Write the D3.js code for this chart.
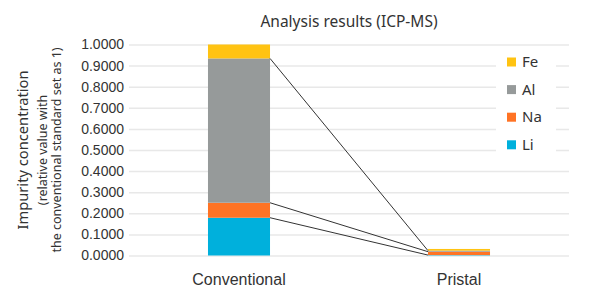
<!DOCTYPE html>
<html>
<head>
<meta charset="utf-8">
<script src="https://cdn.jsdelivr.net/npm/d3@7"></script>
<style>
  body { margin: 0; background: #fff; }
  svg { font-family: "Noto Sans", "Open Sans", sans-serif; }
</style>
</head>
<body>
<svg id="chart" width="600" height="300"></svg>
<script>
// chart data
const categories = ['Conventional', 'Pristal']
const elements = ['Li', 'Na', 'Al', 'Fe']
const Li = [0.179, 0.002]
const Na = [0.071, 0.016]
const Al = [0.684, 0.005]
const Fe = [0.066, 0.008]
const yTicks = [0, 0.1, 0.2, 0.3, 0.4, 0.5, 0.6, 0.7, 0.8, 0.9, 1.0]
const colors = { Li: '#00b0dc', Na: '#ff7324', Al: '#969a9a', Fe: '#ffc312' }

const series = { Li, Na, Al, Fe }
const rows = categories.map((c, i) => {
  const r = { category: c }
  elements.forEach(e => r[e] = series[e][i])
  return r
})
const stacked = d3.stack().keys(elements)(rows)

const svg = d3.select('#chart')
const margin = { top: 44.5, right: 31, bottom: 44.5, left: 129 }
const width = 600 - margin.left - margin.right
const height = 300 - margin.top - margin.bottom

const x = d3.scaleBand()
  .domain(categories)
  .range([margin.left, margin.left + width])
  .paddingInner(0.718)
  .paddingOuter(0.359)

const y = d3.scaleLinear()
  .domain([0, 1])
  .range([margin.top + height, margin.top])

// gridlines
svg.append('g')
  .attr('transform', 'translate(' + margin.left + ',0)')
  .call(d3.axisLeft(y).tickValues(yTicks).tickFormat(d3.format('.4f')).tickSize(-width).tickPadding(5))
  .call(g => g.select('.domain').remove())
  .call(g => g.selectAll('line').attr('stroke', '#e8e8e8').attr('stroke-width', 1.5))
  .call(g => g.selectAll('text').attr('fill', '#333').style('font-size', '14px').style('font-family', 'inherit'))

// bars
svg.append('g')
  .selectAll('g')
  .data(stacked)
  .join('g')
  .attr('fill', d => colors[d.key])
  .selectAll('rect')
  .data(d => d)
  .join('rect')
  .attr('x', d => x(d.data.category))
  .attr('y', d => y(d[1]))
  .attr('height', d => y(d[0]) - y(d[1]))
  .attr('width', x.bandwidth())

// series lines between bars
const links = stacked.slice(0, 3)
svg.append('g')
  .selectAll('line')
  .data(links)
  .join('line')
  .attr('x1', x(categories[0]) + x.bandwidth())
  .attr('y1', d => y(d[0][1]))
  .attr('x2', x(categories[1]))
  .attr('y2', d => y(d[1][1]))
  .attr('stroke', '#333')
  .attr('stroke-width', 1)

// x labels
svg.append('g')
  .attr('transform', 'translate(0,' + (margin.top + height) + ')')
  .call(d3.axisBottom(x).tickSize(0).tickPadding(18))
  .call(g => g.select('.domain').remove())
  .call(g => g.selectAll('text').attr('fill', '#333').style('font-size', '16px').style('font-family', 'inherit'))

// title
svg.append('text')
  .attr('x', 349)
  .attr('y', 27)
  .attr('text-anchor', 'middle')
  .attr('fill', '#333')
  .style('font-size', '15.5px')
  .text('Analysis results (ICP-MS)')

// y axis title
const ytitle = svg.append('text')
  .attr('transform', 'translate(0,' + (margin.top + height / 2) + ') rotate(-90)')
  .attr('text-anchor', 'middle')
  .attr('fill', '#333')
ytitle.append('tspan').attr('x', 0).attr('y', 28).style('font-size', '14.7px').text('Impurity concentration')
ytitle.append('tspan').attr('x', 0).attr('y', 47).style('font-size', '12.5px').text('(relative value with')
ytitle.append('tspan').attr('x', 0).attr('y', 61).style('font-size', '12.5px').text('the conventional standard set as 1)')

// legend
const legendItems = elements.slice().reverse()
const legend = svg.append('g').attr('transform', 'translate(496,46)')
legend.append('rect')
  .attr('width', 60).attr('height', 112)
  .attr('fill', '#fff')
const li = legend.selectAll('g.item')
  .data(legendItems)
  .join('g')
  .attr('class', 'item')
  .attr('transform', (d, i) => 'translate(11,' + (11.5 + i * 27.6) + ')')
li.append('rect')
  .attr('width', 9).attr('height', 9)
  .attr('fill', d => colors[d])
li.append('text')
  .attr('x', 15).attr('y', 9.5)
  .attr('fill', '#333')
  .style('font-size', '15px')
  .text(d => d)
</script>
</body>
</html>
